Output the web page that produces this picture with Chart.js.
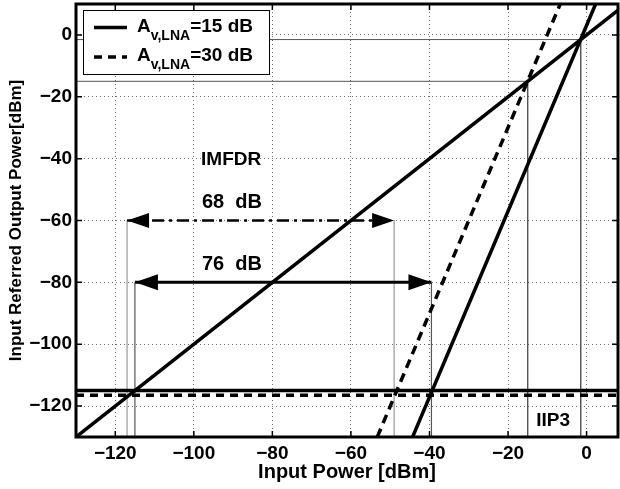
<!DOCTYPE html>
<html>
<head>
<meta charset="utf-8">
<script src="https://cdn.jsdelivr.net/npm/chart.js@4.4.0/dist/chart.umd.min.js"></script>
<style>
  html, body { margin: 0; padding: 0; background: #fff; }
  #wrap { width: 620px; height: 489px; }
</style>
</head>
<body>
<div id="wrap"><canvas id="chart"></canvas></div>
<script>
// Tick labels
const xTicks = [-120, -100, -80, -60, -40, -20, 0];
const yTicks = [-120, -100, -80, -60, -40, -20, 0];

// Fundamental (slope 1)
const fundX = [-130, 10];
const fundY = [-130, 10];
// Third-order products (slope 3)
const im3SolidX = [-44.3, 2.3];
const im3SolidY = [-130, 10];
const im3DashX = [-53.3, -6.7];
const im3DashY = [-130, 10];
// Noise floors
const floorX = [-130, 8];
const floorSolidY = [-115, -115];
const floorDashY = [-116.5, -116.5];
// IIP3 guide lines
const iip3SolidX = [-130, -1.5, -1.5];
const iip3SolidY = [-1.5, -1.5, -130];
const iip3DashX = [-130, -15, -15];
const iip3DashY = [-15, -15, -130];
// IMFDR drop lines (from bottom up to the arrow)
const dropX = [-117, -49, -115, -39.5];
const dropTopY = [-60, -60, -80, -80];
// IMFDR arrows
const arrowDashX = [-117, -49];
const arrowDashY = [-60, -60];
const arrowSolidX = [-115, -39.5];
const arrowSolidY = [-80, -80];

const notes = [
  { text: 'IMFDR', x: -90.5, y: -40.3 },
  { text: '68  dB', x: -90.3, y: -54.2 },
  { text: '76  dB', x: -90.3, y: -74.3 },
  { text: 'IIP3', x: -8.5, y: -124.7 }
];

const FONT = "'Liberation Sans', Arial, Helvetica, sans-serif";
const pts = (xs, ys) => xs.map((x, i) => ({ x: x, y: ys[i] }));
const line = (xs, ys, color, width, dash) => ({
  data: pts(xs, ys),
  borderColor: color,
  borderWidth: width,
  borderDash: dash || [],
  showLine: true,
  pointRadius: 0,
  fill: false,
  tension: 0
});
const minus = v => v < 0 ? '\u2212' + Math.abs(v) : String(v);

// drawn last = on top, so thick lines come first
const datasets = [
  line(fundX, fundY, '#000', 3.5),
  line(im3SolidX, im3SolidY, '#000', 3.5),
  line(im3DashX, im3DashY, '#000', 3.5, [9, 6]),
  line(floorX, floorSolidY, '#000', 3.5),
  line(floorX, floorDashY, '#000', 3.5, [8, 6]),
  line(arrowSolidX, arrowSolidY, '#000', 3),
  line(arrowDashX, arrowDashY, '#000', 2.5, [12, 5, 3, 5]),
  line(iip3SolidX, iip3SolidY, '#555', 1),
  line(iip3DashX, iip3DashY, '#555', 1)
];
dropX.forEach((x, i) => {
  const col = dropTopY[i] === -60 ? '#999' : '#555';
  datasets.push(line([x, x], [-130, dropTopY[i]], col, 1.2));
});

const decor = {
  id: 'decor',
  afterDraw(chart) {
    const ctx = chart.ctx;
    const { left, right, top, bottom } = chart.chartArea;
    const sx = chart.scales.x, sy = chart.scales.y;
    ctx.save();

    // arrow heads
    const head = (x, y, dir, len, hw) => {
      const px = sx.getPixelForValue(x), py = sy.getPixelForValue(y);
      ctx.beginPath();
      ctx.moveTo(px, py);
      ctx.lineTo(px - dir * len, py - hw);
      ctx.lineTo(px - dir * len, py + hw);
      ctx.closePath();
      ctx.fillStyle = '#000';
      ctx.fill();
    };
    head(arrowDashX[0], arrowDashY[0], -1, 22, 7.5);
    head(arrowDashX[1], arrowDashY[1], 1, 22, 7.5);
    head(arrowSolidX[0], arrowSolidY[0], -1, 23, 8);
    head(arrowSolidX[1], arrowSolidY[1], 1, 23, 8);

    // box and inward ticks
    ctx.strokeStyle = '#000';
    ctx.lineWidth = 3;
    ctx.strokeRect(left, top, right - left, bottom - top);
    ctx.lineWidth = 1.5;
    ctx.beginPath();
    xTicks.forEach(v => {
      const p = sx.getPixelForValue(v);
      ctx.moveTo(p, bottom); ctx.lineTo(p, bottom - 6);
      ctx.moveTo(p, top); ctx.lineTo(p, top + 6);
    });
    yTicks.forEach(v => {
      const p = sy.getPixelForValue(v);
      ctx.moveTo(left, p); ctx.lineTo(left + 6, p);
      ctx.moveTo(right, p); ctx.lineTo(right - 6, p);
    });
    ctx.stroke();

    // annotations
    ctx.fillStyle = '#000';
    ctx.textAlign = 'center';
    ctx.textBaseline = 'middle';
    notes.forEach(n => {
      ctx.font = 'bold ' + (n.text.indexOf('dB') >= 0 ? 20 : 19) + 'px ' + FONT;
      ctx.fillText(n.text, sx.getPixelForValue(n.x), sy.getPixelForValue(n.y));
    });

    // legend
    const lx = 83, ly = 10, lw = 186, lh = 64;
    ctx.fillStyle = '#fff';
    ctx.fillRect(lx, ly, lw, lh);
    ctx.strokeStyle = '#000';
    ctx.lineWidth = 1;
    ctx.strokeRect(lx + 0.5, ly + 0.5, lw, lh);
    const rows = [
      { gain: '=15 dB', dash: [], lineY: 27.5, base: 32 },
      { gain: '=30 dB', dash: [8, 6], lineY: 57, base: 61 }
    ];
    rows.forEach(r => {
      ctx.beginPath();
      ctx.setLineDash(r.dash);
      ctx.lineWidth = 3.5;
      ctx.moveTo(94, r.lineY);
      ctx.lineTo(127, r.lineY);
      ctx.stroke();
      ctx.setLineDash([]);
      ctx.fillStyle = '#000';
      ctx.textAlign = 'left';
      ctx.textBaseline = 'alphabetic';
      let x = 137;
      ctx.font = 'bold 19px ' + FONT;
      ctx.fillText('A', x, r.base);
      x += ctx.measureText('A').width;
      ctx.font = 'bold 14px ' + FONT;
      ctx.fillText('v,LNA', x, r.base + 8);
      x += ctx.measureText('v,LNA').width;
      ctx.font = 'bold 19px ' + FONT;
      ctx.fillText(r.gain, x, r.base);
    });
    ctx.restore();
  }
};

new Chart(document.getElementById('chart'), {
  type: 'scatter',
  data: { datasets: datasets },
  options: {
    responsive: true,
    maintainAspectRatio: false,
    animation: false,
    layout: { padding: { top: 4, right: 2, left: 0, bottom: 0 } },
    plugins: { legend: { display: false }, tooltip: { enabled: false } },
    scales: {
      x: {
        type: 'linear',
        min: -130,
        max: 8,
        afterBuildTicks: s => { s.ticks = xTicks.map(v => ({ value: v })); },
        afterFit: s => { s.height = 52; s.paddingLeft = 0; s.paddingRight = 0; },
        grid: { color: '#707070', lineWidth: 1, drawTicks: false },
        border: { display: false, dash: [1, 3] },
        ticks: {
          color: '#000', padding: 5, maxRotation: 0, autoSkip: false,
          font: { family: FONT, size: 19, weight: 'bold' },
          callback: v => minus(v)
        },
        title: {
          display: true, text: 'Input Power [dBm]', color: '#000',
          font: { family: FONT, size: 20, weight: 'bold' },
          padding: { top: 0, bottom: 5 }
        }
      },
      y: {
        type: 'linear',
        min: -130,
        max: 10,
        afterBuildTicks: s => { s.ticks = yTicks.map(v => ({ value: v })); },
        afterFit: s => { s.width = 76; s.paddingTop = 0; s.paddingBottom = 0; },
        grid: { color: '#707070', lineWidth: 1, drawTicks: false },
        border: { display: false, dash: [1, 3] },
        ticks: {
          color: '#000', padding: 4, autoSkip: false,
          font: { family: FONT, size: 19, weight: 'bold' },
          callback: v => minus(v)
        },
        title: {
          display: true, text: 'Input Referred Output Power[dBm]', color: '#000',
          font: { family: FONT, size: 17, weight: 'bold' },
          padding: { top: 6, bottom: 0 }
        }
      }
    }
  },
  plugins: [decor]
});
</script>
</body>
</html>
